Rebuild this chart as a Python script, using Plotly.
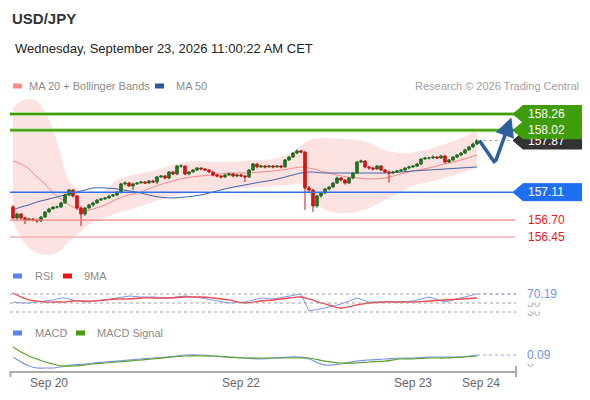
import plotly.graph_objects as go

# ---------------- data ----------------
first_open = 156.892
close = [156.731, 156.789, 156.731, 156.701, 156.716, 156.701, 156.686, 156.745, 156.819, 156.863,
         156.892, 156.892, 156.951, 157.069, 157.142, 157.054, 156.878, 156.789, 156.878, 156.922,
         156.951, 156.995, 157.010, 157.025, 157.054, 157.069, 157.113, 157.231, 157.245, 157.201,
         157.231, 157.245, 157.260, 157.245, 157.275, 157.260, 157.334, 157.348, 157.319, 157.407,
         157.378, 157.495, 157.495, 157.378, 157.407, 157.436, 157.466, 157.451, 157.436, 157.407,
         157.363, 157.348, 157.334, 157.363, 157.378, 157.348, 157.363, 157.348, 157.334, 157.436,
         157.525, 157.481, 157.495, 157.481, 157.495, 157.481, 157.495, 157.481, 157.584, 157.628,
         157.686, 157.716, 157.701, 157.172, 157.142, 156.907, 157.054, 157.098, 157.157, 157.186,
         157.245, 157.319, 157.289, 157.245, 157.319, 157.392, 157.554, 157.569, 157.481, 157.466,
         157.451, 157.495, 157.436, 157.407, 157.392, 157.407, 157.422, 157.436, 157.466, 157.481,
         157.495, 157.525, 157.598, 157.613, 157.613, 157.628, 157.613, 157.642, 157.554, 157.584,
         157.628, 157.657, 157.686, 157.731, 157.775, 157.819, 157.870]
high = [156.92, 156.81, 156.80, 156.75, 156.73, 156.73, 156.72, 156.76, 156.83, 156.88,
        156.90, 156.91, 156.97, 157.09, 157.16, 157.15, 157.07, 156.90, 156.89, 156.94,
        156.97, 157.01, 157.02, 157.04, 157.06, 157.08, 157.12, 157.25, 157.27, 157.26,
        157.25, 157.26, 157.27, 157.27, 157.29, 157.29, 157.35, 157.36, 157.36, 157.42,
        157.42, 157.51, 157.52, 157.50, 157.42, 157.45, 157.48, 157.47, 157.46, 157.45,
        157.41, 157.38, 157.36, 157.38, 157.40, 157.39, 157.38, 157.38, 157.36, 157.45,
        157.54, 157.53, 157.51, 157.51, 157.51, 157.51, 157.51, 157.51, 157.60, 157.64,
        157.70, 157.74, 157.73, 157.71, 157.20, 157.16, 157.07, 157.11, 157.17, 157.20,
        157.26, 157.34, 157.33, 157.30, 157.33, 157.40, 157.57, 157.59, 157.58, 157.50,
        157.48, 157.51, 157.51, 157.45, 157.42, 157.42, 157.44, 157.45, 157.48, 157.50,
        157.51, 157.54, 157.61, 157.63, 157.63, 157.65, 157.64, 157.66, 157.66, 157.60,
        157.64, 157.67, 157.70, 157.75, 157.79, 157.84, 157.89]
low = [156.71, 156.70, 156.70, 156.64, 156.69, 156.68, 156.66, 156.67, 156.73, 156.81,
       156.86, 156.87, 156.88, 156.94, 157.05, 157.03, 156.85, 156.61, 156.76, 156.86,
       156.90, 156.94, 156.98, 157.00, 157.01, 157.04, 157.05, 157.09, 157.21, 157.19,
       157.14, 157.22, 157.24, 157.23, 157.24, 157.25, 157.23, 157.32, 157.30, 157.30,
       157.36, 157.36, 157.47, 157.36, 157.36, 157.40, 157.42, 157.43, 157.42, 157.39,
       157.34, 157.33, 157.31, 157.32, 157.35, 157.33, 157.33, 157.33, 157.26, 157.32,
       157.42, 157.46, 157.47, 157.46, 157.47, 157.46, 157.47, 157.46, 157.47, 157.57,
       157.61, 157.67, 157.68, 156.85, 157.11, 156.82, 156.88, 157.03, 157.08, 157.14,
       157.17, 157.23, 157.27, 157.22, 157.23, 157.30, 157.38, 157.54, 157.46, 157.44,
       157.43, 157.44, 157.42, 157.39, 157.25, 157.38, 157.40, 157.41, 157.42, 157.45,
       157.47, 157.48, 157.51, 157.59, 157.59, 157.60, 157.60, 157.60, 157.53, 157.54,
       157.57, 157.61, 157.64, 157.67, 157.72, 157.76, 157.80]
# FX bars open at the previous bar's close
open_ = [first_open] + close[:-1]
bars = list(range(len(close)))

# indicator samples (bar index -> value)
ind_bar = [0, 2, 4, 6, 8, 10, 12, 13, 15, 18, 20, 23, 26, 29, 32, 35, 39, 43, 47, 50,
           54, 58, 62, 65, 69, 72, 74, 78, 82, 86, 89, 93, 97, 100, 104, 108, 112, 116]
ma20 = [157.569, 157.525, 157.451, 157.334, 157.231, 157.098, 157.010, 156.966, 156.892, 156.834,
        156.863, 156.922, 157.010, 157.069, 157.113, 157.186, 157.260, 157.319, 157.348, 157.363,
        157.392, 157.392, 157.407, 157.422, 157.451, 157.481, 157.466, 157.407, 157.348, 157.319,
        157.304, 157.319, 157.378, 157.422, 157.466, 157.525, 157.584, 157.657]
bb_upper = [158.348, 158.451, 158.481, 158.451, 158.289, 158.025, 157.657, 157.407, 157.201, 157.113,
            157.098, 157.142, 157.289, 157.348, 157.392, 157.422, 157.495, 157.554, 157.569, 157.554,
            157.554, 157.569, 157.584, 157.598, 157.672, 157.789, 157.878, 157.907, 157.892, 157.878,
            157.834, 157.731, 157.686, 157.701, 157.745, 157.819, 157.907, 158.025]
bb_lower = [156.672, 156.436, 156.289, 156.216, 156.186, 156.201, 156.260, 156.334, 156.436, 156.584,
            156.672, 156.731, 156.804, 156.848, 156.907, 156.966, 157.039, 157.098, 157.128, 157.142,
            157.157, 157.172, 157.186, 157.201, 157.216, 157.231, 157.069, 156.848, 156.804, 156.819,
            156.878, 156.995, 157.113, 157.201, 157.260, 157.319, 157.392, 157.466]
ma50 = [156.848, 156.892, 156.922, 156.966, 156.995, 157.025, 157.054, 157.069, 157.098, 157.142,
        157.172, 157.172, 157.157, 157.128, 157.098, 157.054, 157.025, 157.039, 157.069, 157.113,
        157.172, 157.216, 157.260, 157.289, 157.348, 157.392, 157.407, 157.392, 157.392, 157.392,
        157.392, 157.392, 157.407, 157.422, 157.436, 157.451, 157.466, 157.481]
rsi = [52.2, 50.0, 50.0, 52.2, 54.4, 56.7, 61.1, 61.1, 56.7, 52.2,
       54.4, 56.7, 61.1, 65.6, 63.3, 63.3, 61.1, 65.6, 61.1, 56.7,
       50.0, 52.2, 61.1, 58.9, 65.6, 70.0, 32.2, 38.9, 47.8, 61.1,
       52.2, 52.2, 52.2, 54.4, 63.3, 52.2, 61.1, 70.19]
rsi_ma9 = [72.2, 63.3, 56.7, 54.4, 52.2, 52.2, 52.2, 52.2, 54.4, 54.4,
           54.4, 56.7, 58.9, 58.9, 61.1, 61.1, 61.1, 63.3, 63.3, 61.1,
           56.7, 50.0, 54.4, 56.7, 61.1, 63.3, 58.9, 47.8, 38.9, 45.6,
           50.0, 52.2, 52.2, 52.2, 54.4, 56.7, 58.9, 61.1]
macd = [0.067, 0.011, -0.034, -0.056, -0.056, -0.056, -0.045, -0.034, -0.022, -0.011,
        0.000, 0.011, 0.022, 0.034, 0.045, 0.056, 0.067, 0.090, 0.090, 0.079,
        0.067, 0.056, 0.045, 0.056, 0.067, 0.067, 0.045, -0.022, -0.011, 0.022,
        0.034, 0.045, 0.056, 0.056, 0.067, 0.067, 0.067, 0.090]
macd_signal = [0.180, 0.124, 0.079, 0.045, 0.011, -0.011, -0.034, -0.034, -0.034, -0.022,
               -0.011, 0.000, 0.011, 0.022, 0.034, 0.045, 0.067, 0.079, 0.079, 0.079,
               0.067, 0.056, 0.056, 0.056, 0.056, 0.056, 0.056, 0.022, 0.000, 0.000,
               0.011, 0.022, 0.045, 0.045, 0.056, 0.056, 0.067, 0.079]

resistance = [158.26, 158.02]
pivot = 157.11
support = [156.70, 156.45]
last_price = 157.87
rsi_levels = [70, 50, 30]
rsi_last = 70.19
macd_last = 0.09

forecast_bar = [116.6, 120.5, 124.6]
forecast_px = [157.87, 157.54, 158.21]

tick_bars = [9, 57, 100, 117]
tick_text = ["Sep 20", "Sep 22", "Sep 23", "Sep 24"]

# ---------------- styling ----------------
FONT = "Arial, Liberation Sans, sans-serif"
GREEN = "#3f9c0a"
BLUE_LVL = "#2f6fe8"
RED_TXT = "#e8191c"
PAGE = 8                 # browser body margin around the plot div
W, H = 590 - PAGE, 400 - PAGE
L, R = 10, 516           # plot area, page pixels
PRICE_RANGE = [156.142, 158.495]


def px_x(p):
    return (p - L) / (R - L)


def px_y(p):
    return 1 - (p - PAGE) / H


fig = go.Figure()

# Bollinger band fill + moving averages (base price axis)
fig.add_trace(go.Scatter(x=ind_bar, y=bb_upper, mode="lines", line=dict(width=0, shape="spline"),
                         hoverinfo="skip", yaxis="y"))
fig.add_trace(go.Scatter(x=ind_bar, y=bb_lower, mode="lines", line=dict(width=0, shape="spline"),
                         fill="tonexty", fillcolor="#fde2e2", hoverinfo="skip", yaxis="y"))
fig.add_trace(go.Scatter(x=ind_bar, y=ma20, mode="lines",
                         line=dict(color="#f58a8a", width=1, shape="spline"), yaxis="y"))
fig.add_trace(go.Scatter(x=ind_bar, y=ma50, mode="lines",
                         line=dict(color="#3f63a8", width=1, shape="spline"), yaxis="y"))

# candles on an overlaid copy of the price axis so they sit above the band fill
fig.add_trace(go.Candlestick(
    x=bars, open=open_, high=high, low=low, close=close, yaxis="y4",
    increasing=dict(line=dict(color="#1e6a1e", width=1), fillcolor="#237a23"),
    decreasing=dict(line=dict(color="#c41414", width=1), fillcolor="#e01616"),
    whiskerwidth=0,
))

# forecast arrow
fig.add_trace(go.Scatter(x=forecast_bar[:2], y=forecast_px[:2], mode="lines",
                         line=dict(color="#2d5f9f", width=3.5), yaxis="y4", cliponaxis=False))
fig.add_annotation(x=forecast_bar[2], y=forecast_px[2], ax=forecast_bar[1], ay=forecast_px[1],
                   xref="x", yref="y", axref="x", ayref="y", text="", showarrow=True,
                   arrowhead=2, arrowsize=1.1, arrowwidth=3.5, arrowcolor="#2d5f9f")

# RSI panel
fig.add_trace(go.Scatter(x=ind_bar, y=rsi, mode="lines", line=dict(color="#7d98ea", width=1), yaxis="y2"))
fig.add_trace(go.Scatter(x=ind_bar, y=rsi_ma9, mode="lines",
                         line=dict(color="#f0454a", width=1.3, shape="spline"), yaxis="y2"))

# MACD panel
fig.add_trace(go.Scatter(x=ind_bar, y=macd, mode="lines",
                         line=dict(color="#7d98ea", width=1.2, shape="spline"), yaxis="y3"))
fig.add_trace(go.Scatter(x=ind_bar, y=macd_signal, mode="lines",
                         line=dict(color="#5aa02a", width=1.2, shape="spline"), yaxis="y3"))

shapes = []
# key levels
for lvl in resistance:
    shapes.append(dict(type="line", xref="paper", yref="y", x0=0, x1=px_x(515), y0=lvl, y1=lvl,
                       line=dict(color="#b3dc93", width=4)))
    shapes.append(dict(type="line", xref="paper", yref="y", x0=0, x1=px_x(515), y0=lvl, y1=lvl,
                       line=dict(color=GREEN, width=2)))
shapes.append(dict(type="line", xref="paper", yref="y", x0=0, x1=px_x(515), y0=pivot, y1=pivot,
                   line=dict(color=BLUE_LVL, width=1.6)))
shapes.append(dict(type="line", xref="paper", yref="y", x0=0, x1=px_x(515), y0=support[0], y1=support[0],
                   line=dict(color="#f38080", width=1.2)))
shapes.append(dict(type="line", xref="paper", yref="y", x0=0, x1=px_x(515), y0=support[1], y1=support[1],
                   line=dict(color="#f6b0b0", width=1.6)))
shapes.append(dict(type="line", xref="x", yref="y", x0=bars[-1], x1=125.75, y0=last_price, y1=last_price,
                   line=dict(color="#aaaaaa", width=1, dash="dot")))

# RSI guide lines
for lvl in rsi_levels:
    shapes.append(dict(type="line", xref="paper", yref="y2", x0=0, x1=1, y0=lvl, y1=lvl,
                       line=dict(color="#a0a0a0", width=1, dash="dot")))
shapes.append(dict(type="line", xref="x", yref="y2", x0=ind_bar[-1], x1=125.75, y0=rsi_last, y1=rsi_last,
                   line=dict(color="#8fa6ee", width=1, dash="dot")))
shapes.append(dict(type="line", xref="x", yref="y3", x0=ind_bar[-1], x1=125.75, y0=macd_last, y1=macd_last,
                   line=dict(color="#8fa6ee", width=1, dash="dot")))

# x axis end ticks
shapes.append(dict(type="line", xref="paper", yref="paper", x0=0.001, x1=0.001, y0=px_y(371), y1=px_y(377),
                   line=dict(color="#aaaaaa", width=2)))
shapes.append(dict(type="line", xref="paper", yref="paper", x0=1, x1=1, y0=px_y(366), y1=px_y(377),
                   line=dict(color="#aaaaaa", width=2)))


def price_tag(price, color):
    h = 8.5 / 68
    tip, x0, x1 = px_x(513), px_x(523), px_x(588)
    path = (f"M {tip},{price} L {x0},{price + h} L {x1},{price + h} "
            f"L {x1},{price - h} L {x0},{price - h} Z")
    return dict(type="path", xref="paper", yref="y", path=path, fillcolor=color,
                line=dict(color=color, width=1), layer="above")


shapes.append(price_tag(last_price, "#333333"))
shapes.append(price_tag(pivot, "#1f6ff2"))
for lvl in resistance:
    shapes.append(price_tag(lvl, GREEN))

# legend swatches
for x0, y, c in [(13, 86, "#ff8a8a"), (155, 86, "#2e5a9c"),
                 (13, 276, "#5d83ea"), (63, 276, "#e8171b"),
                 (13, 333, "#5d83ea"), (76, 333, "#4a9a12")]:
    shapes.append(dict(type="rect", xref="paper", yref="paper", x0=px_x(x0), x1=px_x(x0 + 9),
                       y0=px_y(y + 2.5), y1=px_y(y - 2.5), fillcolor=c, line=dict(width=0)))

ann = []


def txt(text, x, y, size=11, color="#888", anchor="left"):
    ann.append(dict(text=text, x=px_x(x), y=px_y(y), xref="paper", yref="paper",
                    xanchor=anchor, yanchor="middle", showarrow=False,
                    font=dict(family=FONT, size=size, color=color)))


txt("30 MIN", 86, 18, 12, "#333333")
txt("Wednesday, September 23, 2026 11:00:22 AM CET", 13, 48, 13, "#222222")
txt("MA 20 + Bollinger Bands", 27, 86, 11, "#8a8a8a")
txt("MA 50", 174, 86, 11, "#8a8a8a")
txt("Research \u00a9 2026 Trading Central", 581, 86, 11, "#a0a0a0", anchor="right")
txt("RSI", 33, 276, 11, "#8a8a8a")
txt("9MA", 82, 276, 11, "#8a8a8a")
txt("MACD", 33, 333, 11, "#8a8a8a")
txt("MACD Signal", 95, 333, 11, "#8a8a8a")


def level_label(value, color, bg=None):
    a = dict(text=f"{value:.2f}", x=px_x(526), y=value, xref="paper", yref="y", xanchor="left",
             yanchor="middle", showarrow=False, align="left",
             font=dict(family=FONT, size=12, color=color))
    if bg:
        a.update(bgcolor=bg, width=58, height=14, borderpad=1)
    ann.append(a)


# tag texts: the 157.87 tag sits under the 158.02 tag
level_label(last_price, "white")
level_label(pivot, "white")
for lvl in resistance:
    level_label(lvl, "white", GREEN)
for lvl in support:
    level_label(lvl, RED_TXT)

# indicator value labels (drawn bottom-up so each hides the one below)
for lvl in [30, 50]:
    ann.append(dict(text=str(lvl), x=px_x(525), y=lvl, xref="paper", yref="y2", xanchor="left",
                    yanchor="middle", showarrow=False, bgcolor="white",
                    font=dict(family=FONT, size=12, color="#b0b0b0")))
ann.append(dict(text=f"{rsi_last:.2f}", x=px_x(525), y=rsi_last, xref="paper", yref="y2", xanchor="left",
                yanchor="middle", showarrow=False, bgcolor="white",
                font=dict(family=FONT, size=12, color="#7390e6")))
ann.append(dict(text="0", x=px_x(525), y=0, xref="paper", yref="y3", xanchor="left",
                yanchor="middle", showarrow=False, bgcolor="white",
                font=dict(family=FONT, size=12, color="#b0b0b0")))
ann.append(dict(text=f"{macd_last:.2f}", x=px_x(525), y=macd_last, xref="paper", yref="y3", xanchor="left",
                yanchor="middle", showarrow=False, bgcolor="white",
                font=dict(family=FONT, size=12, color="#7390e6")))

hidden = dict(showgrid=False, zeroline=False, showticklabels=False, showline=False, fixedrange=True)

fig.update_layout(
    width=W, height=H, showlegend=False,
    paper_bgcolor="white", plot_bgcolor="white",
    margin=dict(l=L - PAGE, r=590 - R, t=0, b=0),
    font=dict(family=FONT),
    boxgap=0.1,
    title=dict(text="USD/JPY", xref="container", yref="container",
               x=(12 - PAGE) / W, y=1 - (19 - PAGE) / H, xanchor="left", yanchor="middle",
               font=dict(family=FONT, size=15, color="#333333", weight="bold")),
    xaxis=dict(range=[-0.75, 125.75], anchor="y3", rangeslider=dict(visible=False),
               showgrid=False, zeroline=False, showline=True, linecolor="#aaaaaa", linewidth=2,
               tickmode="array", tickvals=tick_bars, ticktext=tick_text, ticks="",
               tickfont=dict(family=FONT, size=12, color="#666666"), automargin=False),
    yaxis=dict(domain=[px_y(258), px_y(98)], range=PRICE_RANGE, **hidden),
    yaxis4=dict(overlaying="y", range=PRICE_RANGE, **hidden),
    yaxis2=dict(domain=[px_y(325.5), px_y(280.5)], range=[0, 100], **hidden),
    yaxis3=dict(domain=[px_y(371), px_y(340)], range=[-0.09, 0.2587], **hidden),
    shapes=shapes,
    annotations=ann,
)

fig.write_html("out.html")
